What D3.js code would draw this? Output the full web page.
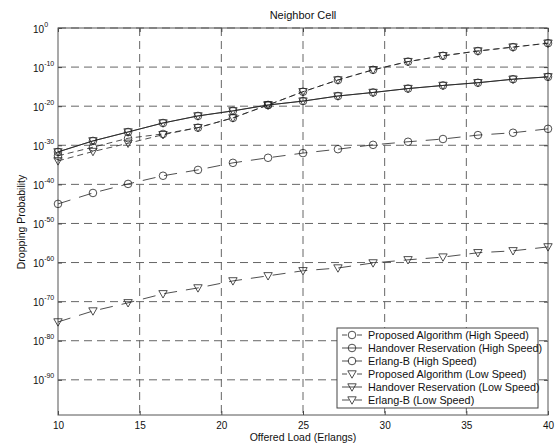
<!DOCTYPE html>
<html>
<head>
<meta charset="utf-8">
<script src="https://cdn.jsdelivr.net/npm/d3@7"></script>
<style>
  html, body { margin: 0; padding: 0; background: #fff; }
  svg { display: block; font-family: "Liberation Sans", Arial, sans-serif; }
</style>
</head>
<body>
<svg id="chart" width="557" height="444"></svg>
<script>
// ---- data ----
const offeredLoad = [10, 12.14, 14.29, 16.43, 18.57, 20.71, 22.86, 25, 27.14, 29.29, 31.43, 33.57, 35.71, 37.86, 40];

const proposedHigh  = [1e-45, 6.3e-43, 1.3e-40, 1.6e-38, 5e-37, 3.2e-35, 6.3e-34, 1e-32, 1e-31, 1.3e-30, 7.9e-30, 4e-29, 4e-28, 1.6e-27, 1.6e-26];
const handoverHigh  = [2e-32, 1.3e-29, 2.5e-27, 5e-25, 3.2e-23, 6.3e-22, 2e-20, 2e-19, 4e-18, 3.2e-17, 3.2e-16, 2e-15, 1e-14, 7.9e-14, 3.2e-13];
const erlangHigh    = [2e-33, 3.2e-31, 6.3e-29, 7.9e-28, 3.2e-26, 1e-23, 2e-20, 5e-17, 5e-14, 2e-11, 2.5e-9, 7.9e-8, 1.3e-6, 1.3e-5, 1.3e-4];
const proposedLow   = [6.3e-76, 4e-73, 5e-71, 1e-68, 3.2e-67, 2e-65, 4e-64, 7.9e-63, 4e-62, 7.9e-61, 5e-60, 2.5e-59, 3.2e-58, 1e-57, 1e-56];
const handoverLow   = [2e-32, 1.3e-29, 2.5e-27, 5e-25, 3.2e-23, 6.3e-22, 2e-20, 2e-19, 4e-18, 3.2e-17, 3.2e-16, 2e-15, 1e-14, 7.9e-14, 3.2e-13];
const erlangLow     = [1e-34, 2.5e-32, 3.2e-30, 5e-28, 3.2e-26, 1e-23, 2e-20, 5e-17, 5e-14, 2e-11, 2.5e-9, 7.9e-8, 1.3e-6, 1.3e-5, 1.3e-4];

const seriesNames = [
  "Proposed Algorithm (High Speed)",
  "Handover Reservation (High Speed)",
  "Erlang-B (High Speed)",
  "Proposed Algorithm (Low Speed)",
  "Handover Reservation (Low Speed)",
  "Erlang-B (Low Speed)"
];
const seriesValues = [proposedHigh, handoverHigh, erlangHigh, proposedLow, handoverLow, erlangLow];
const seriesMarker = ["circle", "circle", "circle", "triangle", "triangle", "triangle"];
const seriesStyle  = ["proposed", "solid", "dashed", "proposed", "solid", "dashed"];

const xTicks = [10, 15, 20, 25, 30, 35, 40];
const yTickExponents = [0, -10, -20, -30, -40, -50, -60, -70, -80, -90];

const titleText = "Neighbor Cell";
const xLabelText = "Offered Load (Erlangs)";
const yLabelText = "Dropping Probability";

// ---- layout ----
const plotLeft = 58, plotRight = 548, plotTop = 28, plotBottom = 415;
const svg = d3.select("#chart");

const x = d3.scaleLinear().domain([10, 40]).range([plotLeft, plotRight]);
const y = d3.scaleLog().domain([1e-99, 1]).range([plotBottom, plotTop]);

const ink = "#222";
const dashMap = { solid: null, dashed: "6,4", proposed: "13,9" };

// grid
const grid = svg.append("g");
xTicks.slice(1, -1).forEach(t => {
  grid.append("line").attr("x1", x(t)).attr("x2", x(t)).attr("y1", plotTop).attr("y2", plotBottom)
    .attr("stroke", "#666").attr("stroke-width", 1).attr("stroke-dasharray", "8,5");
});
yTickExponents.forEach(e => {
  grid.append("line").attr("x1", plotLeft).attr("x2", plotRight).attr("y1", y(Math.pow(10, e))).attr("y2", y(Math.pow(10, e)))
    .attr("stroke", "#666").attr("stroke-width", 1).attr("stroke-dasharray", "8,5");
});

// axes via d3 axis generators (inward ticks)
const xAxis = d3.axisBottom(x).tickValues(xTicks).tickSize(-4).tickFormat(d3.format("d"));
const gx = svg.append("g").attr("transform", `translate(0,${plotBottom})`).call(xAxis);
gx.select(".domain").remove();
gx.selectAll(".tick line").attr("stroke", "#444");
gx.selectAll(".tick text").attr("y", 14).attr("dy", "0")
  .attr("font-size", "10px").attr("fill", "#111").attr("font-family", "Liberation Sans, Arial, sans-serif");

const gxTop = svg.append("g").attr("transform", `translate(0,${plotTop})`)
  .call(d3.axisTop(x).tickValues(xTicks).tickSize(-4).tickFormat(""));
gxTop.select(".domain").remove();
gxTop.selectAll(".tick line").attr("stroke", "#444");

const yTickVals = yTickExponents.map(e => Math.pow(10, e));
const yAxis = d3.axisLeft(y).tickValues(yTickVals).tickSize(-4).tickFormat("");
const gy = svg.append("g").attr("transform", `translate(${plotLeft},0)`).call(yAxis);
gy.select(".domain").remove();
gy.selectAll(".tick line").attr("stroke", "#444");
gy.selectAll(".tick").each(function(d, i) {
  const t = d3.select(this).append("text")
    .attr("x", -25).attr("y", 4).attr("text-anchor", "start")
    .attr("font-size", "10px").attr("fill", "#111")
    .attr("font-family", "Liberation Sans, Arial, sans-serif");
  t.append("tspan").text("10");
  t.append("tspan").attr("dy", -6).attr("font-size", "7px").text(String(yTickExponents[i]));
});
const gyR = svg.append("g").attr("transform", `translate(${plotRight},0)`)
  .call(d3.axisRight(y).tickValues(yTickVals).tickSize(-4).tickFormat(""));
gyR.select(".domain").remove();
gyR.selectAll(".tick line").attr("stroke", "#444");

// box
svg.append("rect").attr("x", plotLeft).attr("y", plotTop).attr("width", plotRight - plotLeft).attr("height", plotBottom - plotTop)
  .attr("fill", "none").attr("stroke", "#555").attr("stroke-width", 1);

// series lines
const lineGen = d3.line().x(d => x(d[0])).y(d => y(d[1]));
seriesValues.forEach((vals, si) => {
  const pts = offeredLoad.map((xv, i) => [xv, vals[i]]);
  svg.append("path").datum(pts).attr("d", lineGen)
    .attr("fill", "none").attr("stroke", ink).attr("stroke-width", 0.8)
    .attr("stroke-dasharray", dashMap[seriesStyle[si]]);
});

function drawMarker(g, type, cx, cy) {
  if (type === "circle") {
    g.append("circle").attr("cx", cx).attr("cy", cy).attr("r", 3.8)
      .attr("fill", "none").attr("stroke", ink).attr("stroke-width", 0.8);
  } else {
    g.append("path").attr("d", `M${cx - 4.2},${cy - 3.2}L${cx + 4.2},${cy - 3.2}L${cx},${cy + 4.2}Z`)
      .attr("fill", "none").attr("stroke", ink).attr("stroke-width", 0.8);
  }
}

// markers
seriesValues.forEach((vals, si) => {
  const g = svg.append("g");
  offeredLoad.forEach((xv, i) => drawMarker(g, seriesMarker[si], x(xv), y(vals[i])));
});

// legend
const lg = svg.append("g");
const lx = 337, ly = 328, lw = 201, lh = 80;
lg.append("rect").attr("x", lx).attr("y", ly).attr("width", lw).attr("height", lh)
  .attr("fill", "#fff").attr("stroke", "#444").attr("stroke-width", 1);
const legendDash = { solid: null, dashed: "7,6,7", proposed: "5,10,5" };
seriesNames.forEach((name, i) => {
  const cy = 335 + i * 13;
  lg.append("line").attr("x1", 342).attr("x2", 362).attr("y1", cy).attr("y2", cy)
    .attr("stroke", ink).attr("stroke-width", 0.8).attr("stroke-dasharray", legendDash[seriesStyle[i]]);
  drawMarker(lg, seriesMarker[i], 352, cy);
  lg.append("text").attr("x", 368).attr("y", cy + 4).attr("font-size", "10.8px").attr("fill", "#111").text(name);
});

// title and labels
svg.append("text").attr("x", (plotLeft + plotRight) / 2).attr("y", 19).attr("text-anchor", "middle")
  .attr("font-size", "11px").attr("fill", "#111").text(titleText);
svg.append("text").attr("x", (plotLeft + plotRight) / 2).attr("y", 441).attr("text-anchor", "middle")
  .attr("font-size", "10.5px").attr("fill", "#111").text(xLabelText);
svg.append("text").attr("transform", `translate(25,222) rotate(-90)`).attr("text-anchor", "middle")
  .attr("font-size", "10.5px").attr("fill", "#111").text(yLabelText);
</script>
</body>
</html>
